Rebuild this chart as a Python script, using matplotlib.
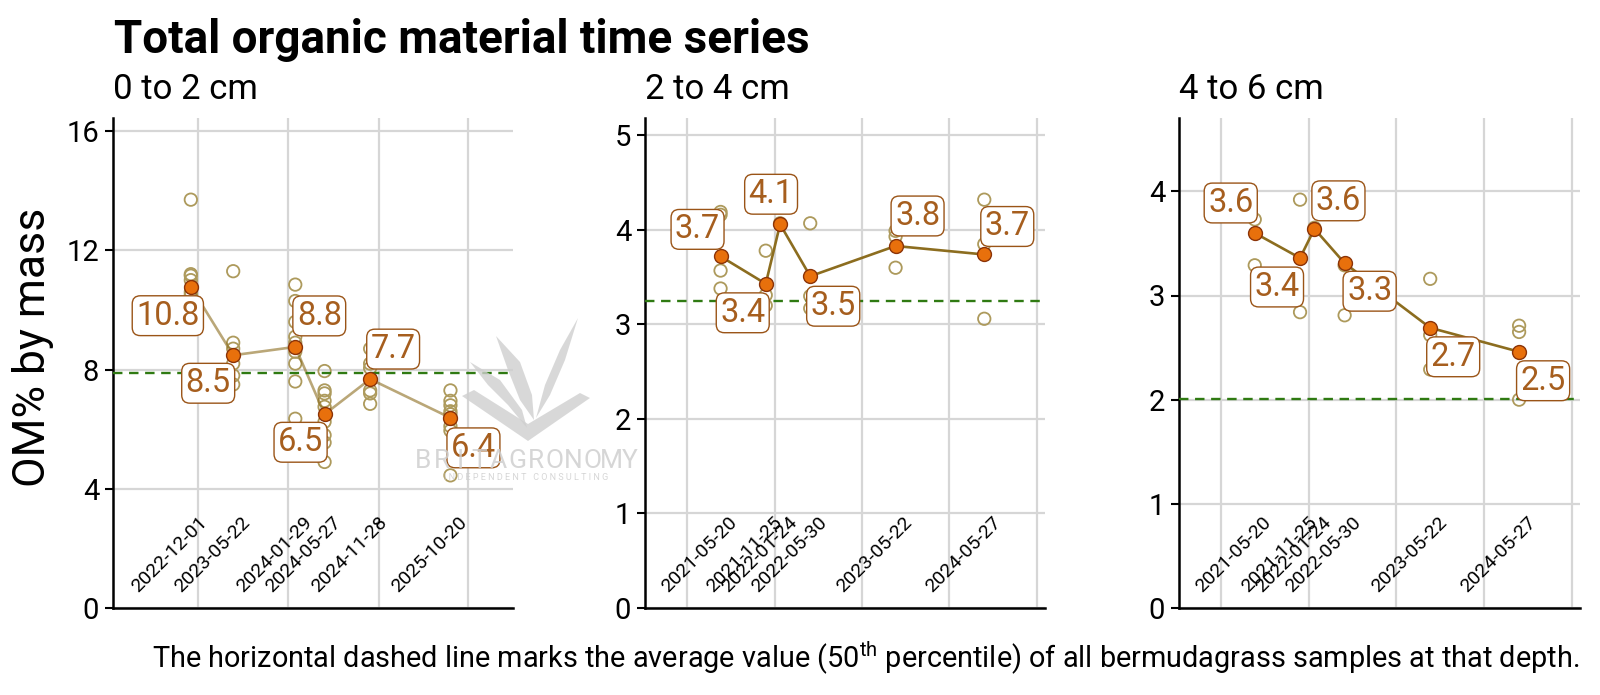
import numpy as np
import pandas as pd
import matplotlib
matplotlib.use("Agg")
import matplotlib.pyplot as plt
import matplotlib.dates as mdates
import matplotlib.transforms as mtransforms
from matplotlib.ticker import MultipleLocator, NullFormatter
from matplotlib.patches import Polygon

plt.rcParams['font.family'] = ['Roboto', 'DejaVu Sans']
plt.rcParams['mathtext.fontset'] = 'custom'
plt.rcParams['mathtext.rm'] = 'Roboto'

# ---------------- data ----------------
depths = ["0 to 2 cm", "2 to 4 cm", "4 to 6 cm"]

dates_0_2 = ["2022-12-01", "2023-05-22", "2024-01-29", "2024-05-27", "2024-11-28", "2025-10-20"]
medians_0_2 = [10.78, 8.48, 8.76, 6.5, 7.68, 6.38]
samples_0_2 = [
    [13.7, 11.2, 11.15, 11.0, 10.6, 10.5],
    [11.3, 8.9, 8.7, 8.2, 7.8, 7.5],
    [10.85, 10.3, 9.6, 9.1, 8.9, 8.6, 8.2, 7.6, 6.35],
    [7.95, 7.3, 7.2, 6.95, 6.75, 6.25, 5.8, 5.55, 4.9],
    [8.7, 8.2, 8.05, 7.3, 7.2, 6.85],
    [7.3, 6.95, 6.8, 6.6, 6.5, 6.1, 5.95, 4.45],
]
baseline_0_2 = 7.9

dates_2_4 = ["2021-05-20", "2021-11-25", "2022-01-24", "2022-05-30", "2023-05-22", "2024-05-27"]
medians_2_4 = [3.72, 3.43, 4.06, 3.51, 3.83, 3.74]
samples_2_4 = [
    [4.19, 4.16, 3.57, 3.38],
    [3.78, 3.31, 3.2],
    [4.07],
    [4.07, 3.3, 3.17],
    [3.99, 3.93, 3.6],
    [4.32, 3.85, 3.06],
]
baseline_2_4 = 3.25

dates_4_6 = ["2021-05-20", "2021-11-25", "2022-01-24", "2022-05-30", "2023-05-22", "2024-05-27"]
medians_4_6 = [3.6, 3.36, 3.64, 3.31, 2.69, 2.46]
samples_4_6 = [
    [3.73, 3.29],
    [3.92, 2.84],
    [3.65],
    [3.29, 2.81],
    [3.16, 2.62, 2.29],
    [2.71, 2.65, 2.0],
]
baseline_4_6 = 2.01

panels = [
    (dates_0_2, medians_0_2, samples_0_2, baseline_0_2),
    (dates_2_4, medians_2_4, samples_2_4, baseline_2_4),
    (dates_4_6, medians_4_6, samples_4_6, baseline_4_6),
]

# label offsets in pixels (dx right, dy down) -- layout only
label_offsets = [
    [(-23, 29), (-25, 28), (24, -31), (-24, 28), (23, -30), (23, 30)],
    [(-23, -27), (-23, 29), (-9, -30), (23, 30), (22, -30), (23, -28)],
    [(-24, -30), (-23, 29), (24, -28), (25, 28), (23, 29), (24, 29)],
]
line_alpha = [0.6, 1.0, 1.0]

TITLE = "Total organic material time series"
YLABEL = "OM% by mass"
CAPTION = (r"The horizontal dashed line marks the average value (50$^{\mathrm{th}}$ percentile) "
           r"of all bermudagrass samples at that depth.")

# ---------------- style ----------------
W, H = 1600, 695
PT = 0.72  # points per pixel at dpi 100
c_point = '#ad9a5c'
c_line = '#8c6d1f'
c_med = '#e8700c'
c_med_edge = '#8b3308'
c_lab = '#a65e1e'
c_lab_edge = '#9a5417'
c_base = '#2f7a12'
c_grid = '#d6d6d6'

fig = plt.figure(figsize=(W / 100, H / 100), dpi=100)

axes_px = [(113, 513), (645, 1045), (1179, 1580)]
top_px, bot_px = 118, 608

for i, (dates, meds, samples, base) in enumerate(panels):
    l, r = axes_px[i]
    ax = fig.add_axes([l / W, 1 - bot_px / H, (r - l) / W, (bot_px - top_px) / H])
    dts = pd.to_datetime(dates)

    # hollow sample circles
    for d, vals in zip(dts, samples):
        ax.scatter([d] * len(vals), vals, s=80, facecolors='none', edgecolors=c_point,
                   linewidths=1.3, zorder=3)

    ax.plot(dts, meds, color=c_line, lw=1.9, alpha=line_alpha[i], zorder=4)
    ax.scatter(dts, meds, s=100, color=c_med, edgecolors=c_med_edge, linewidths=1.0, zorder=5)
    ax.axhline(base, color=c_base, lw=1.7, dashes=(4, 2.8), zorder=4)

    for d, m, (dx, dy) in zip(dts, meds, label_offsets[i]):
        ax.annotate(f"{m:.1f}", xy=(d, m), xytext=(dx * PT, -dy * PT), textcoords='offset points',
                    ha='center', va='center', fontsize=23.5, color=c_lab, zorder=7,
                    bbox=dict(boxstyle='round,pad=0.12,rounding_size=0.25', fc='white',
                              ec=c_lab_edge, lw=1.0))

    # date labels sitting inside the panel, above the x axis
    trans = mtransforms.blended_transform_factory(ax.transData, ax.transAxes)
    for d in dts:
        ax.annotate(d.strftime('%Y-%m-%d'), xy=(mdates.date2num(d), 0), xycoords=trans,
                    xytext=(-21 * PT, 53 * PT), textcoords='offset points', rotation=45,
                    rotation_mode='anchor', ha='center', va='center', fontsize=14, zorder=6)

    all_vals = [v for vals in samples for v in vals]
    ax.set_ylim(0, 1.2 * max(all_vals))
    ax.set_xlim(dts.min() - pd.Timedelta(days=316), dts.max() + pd.Timedelta(days=254))
    ax.yaxis.set_major_locator(MultipleLocator(4 if i == 0 else 1))
    ax.xaxis.set_major_locator(mdates.YearLocator())
    ax.xaxis.set_major_formatter(NullFormatter())
    ax.tick_params(axis='x', length=0)
    ax.tick_params(axis='y', length=6, width=1.5, labelsize=21, pad=4)
    ax.grid(True, color=c_grid, lw=1.6, zorder=0)
    ax.set_axisbelow(True)
    for s in ['top', 'right']:
        ax.spines[s].set_visible(False)
    for s in ['left', 'bottom']:
        ax.spines[s].set_linewidth(1.8)

    fig.text(l / W, 1 - 99 / H, depths[i], fontsize=25, va='baseline', ha='left')

fig.text(114 / W, 1 - 53 / H, TITLE, fontsize=33, fontweight='bold', va='baseline', ha='left')
fig.text(33 / W, 1 - 347 / H, YLABEL, rotation=90, ha='center', va='center', fontsize=32)
fig.text(1579 / W, 1 - 658 / H, CAPTION, ha='right', va='center', fontsize=20.8)

# faint watermark logo
def px(pts):
    return [(x / W, 1 - y / H) for x, y in pts]

wm_shapes = [
    [(462, 396), (528, 441), (590, 398), (580, 393), (528, 424), (474, 390)],
    [(470, 362), (500, 380), (522, 410), (527, 428), (508, 405), (488, 385)],
    [(496, 336), (520, 362), (532, 395), (534, 420), (520, 400), (508, 370)],
    [(578, 318), (560, 350), (545, 385), (536, 418), (550, 395), (565, 360)],
]
for shp in wm_shapes:
    fig.add_artist(Polygon(px(shp), closed=True, transform=fig.transFigure,
                           fc='#cfcfcf', ec='none', alpha=0.8, zorder=10))
for ch, xp in zip("BRITAGRONOMY", np.linspace(423, 630, 12)):
    fig.text(xp / W, 1 - 461 / H, ch, ha='center', va='center', fontsize=19,
             color='#cfcfcf', alpha=0.85, zorder=10)
fig.text(526 / W, 1 - 478 / H, "I N D E P E N D E N T   C O N S U L T I N G", ha='center',
         va='center', fontsize=6.5, color='#cfcfcf', alpha=0.85, zorder=10)

fig.savefig("out.png", dpi=100)
